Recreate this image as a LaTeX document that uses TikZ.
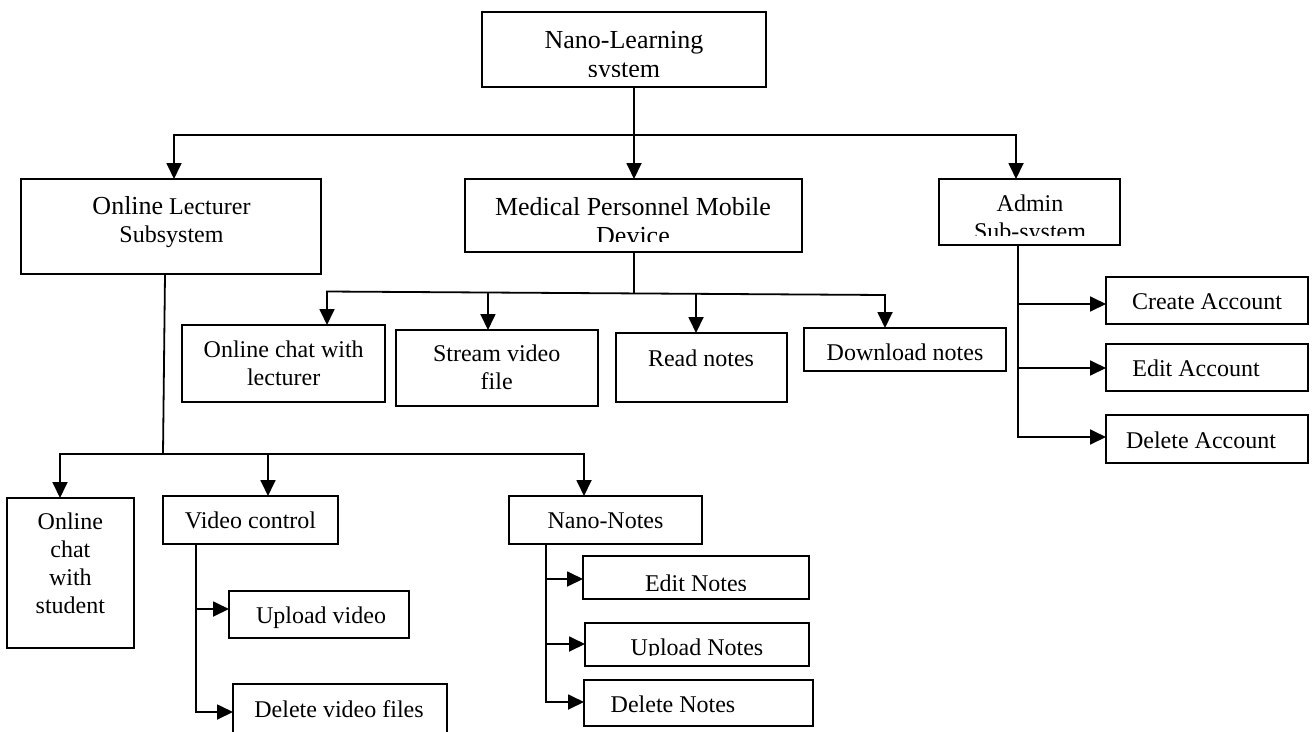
\documentclass[tikz,border=0pt]{standalone}
\usepackage{fontspec}
\setmainfont{Liberation Serif}
\usetikzlibrary{arrows.meta,calc}
\newcommand\mkbox[5]{\node[box, minimum width={#4-#2}, minimum height={#5-#3}] (#1) at (#2,#3) {};}
\begin{document}
\begin{tikzpicture}[x=1pt,y=-1pt,
  box/.style={draw, line width=1.6pt, inner sep=0pt, outer sep=0pt, anchor=north west},
  ln/.style={line width=1.8pt},
  arr/.style={line width=1.8pt, -{Triangle[length=16pt,width=15pt]}},
  arrs/.style={line width=1.8pt, {Triangle[length=16pt,width=15pt]}-{Triangle[length=16pt,width=15pt]}},
  ta/.style={inner sep=0pt, anchor=north, align=center, font=\fontsize{24}{28}\selectfont},
  tb/.style={inner sep=0pt, anchor=north, align=center, font=\fontsize{26}{29}\selectfont}]
\useasboundingbox (0,0) rectangle (1314,731);

% boxes
\mkbox{sys}{482}{12}{766}{87}
\mkbox{med}{465}{179}{802}{252}
\mkbox{lec}{21}{179}{321}{274}
\mkbox{adm}{939}{179}{1120}{245}
\mkbox{chatl}{182}{325}{385}{402}
\mkbox{strm}{396}{330}{598}{406}
\mkbox{read}{616}{333}{787}{402}
\mkbox{down}{804}{328}{1006}{371}
\mkbox{crt}{1106}{277}{1308}{324}
\mkbox{edt}{1106}{344}{1308}{391}
\mkbox{dela}{1106}{415}{1308}{463}
\mkbox{stu}{7}{498}{134}{648}
\mkbox{vid}{163}{496}{338}{544}
\mkbox{upv}{229}{591}{409}{638}
\mkbox{delv}{233}{684}{447}{745}
\mkbox{nano}{509}{496}{702}{544}
\mkbox{edn}{583}{556}{809}{599}
\mkbox{upn}{585}{623}{809}{666}
\mkbox{deln}{584}{680}{813}{726}

% texts
\begin{scope}
  \clip (482,12) rectangle (766,76.5);
  \node[tb] (sysT) at (624,28) {\strut Nano-Learning\\system};
\end{scope}
\begin{scope}
  \clip (465,179) rectangle (802,241);
  \node[tb] (medT) at (633,194.7) {\strut Medical Personnel Mobile\\Device};
\end{scope}
\node[ta] (lecT) at (171.5,194.7) {\strut{\fontsize{26}{28}\selectfont Online} Lecturer\\Subsystem};
\begin{scope}
  \clip (939,179) rectangle (1120,235);
  \node[ta] (admT) at (1030,192.1) {\strut Admin\\Sub-system};
\end{scope}
\node[ta] (chatlT) at (283.7,337.9) {\strut Online chat with\\lecturer};
\node[ta] (strmT) at (496.7,342.1) {\strut Stream video\\file};
\node[ta] (readT) at (701,346.9) {\strut Read notes};
\node[ta] (downT) at (905,341.1) {\strut Download notes};
\node[ta] (crtT) at (1207,289.7) {\strut Create Account};
\node[ta] (edtT) at (1196,357.1) {\strut Edit Account};
\node[ta] (delaT) at (1201,428.7) {\strut Delete Account};
\node[ta] (stuT) at (70.4,509.7) {\strut Online\\chat\\with\\student};
\node[ta] (vidT) at (250.5,508.7) {\strut Video control};
\node[ta] (upvT) at (321,603.7) {\strut Upload video};
\node[ta] (delvT) at (339,698.1) {\strut Delete video files};
\node[ta] (nanoT) at (605.5,508.7) {\strut Nano-Notes};
\begin{scope}
  \clip (583,556) rectangle (809,590);
  \node[ta] (ednT) at (696,571.4) {\strut Edit Notes};
\end{scope}
\begin{scope}
  \clip (585,623) rectangle (809,655);
  \node[ta] (upnT) at (697,635.9) {\strut Upload Notes};
\end{scope}
\node[ta] (delnT) at (673,692.7) {\strut Delete Notes};

% top level connectors
\coordinate (j0) at (634,135);
\coordinate (jl) at (174,135);
\coordinate (jr) at (1016,135);
\draw[arr] (sys.south -| j0) -- (med.north -| j0);
\draw[arrs] (lec.north -| jl) -- (jl) -- (jr) -- (adm.north -| jr);

% medical branch
\coordinate (hl) at (327,291.5);
\coordinate (hr) at (885,295);
\coordinate (hs) at ($(hl)!0.2885!(hr)$);
\coordinate (hd) at ($(hl)!0.6613!(hr)$);
\coordinate (hm) at ($(hl)!0.5502!(hr)$);
\draw[ln] (med.south -| hm) -- (hm);
\draw[arrs] (chatl.north -| hl) -- (hl) -- (hr) -- (down.north -| hr);
\draw[arr] (hs) -- (strm.north -| hs);
\draw[arr] (hd) -- (read.north -| hd);

% lecturer branch
\coordinate (lt) at (165,274);
\coordinate (lb) at (163,454);
\coordinate (bl) at (60,454);
\coordinate (br) at (584,454);
\coordinate (bv) at (268,454);
\draw[ln] (lec.south -| lt) -- (lb);
\draw[arrs] (stu.north -| bl) -- (bl) -- (br) -- (nano.north -| br);
\draw[arr] (bv) -- (vid.north -| bv);

% video control
\coordinate (v1) at (196,609);
\coordinate (v2) at (196,712);
\draw[arr] (vid.south -| v2) -- (v2) -- (v2 -| delv.west);
\draw[arr] (v1) -- (v1 -| upv.west);

% nano notes
\coordinate (n1) at (546,579);
\coordinate (n2) at (546,644);
\coordinate (n3) at (546,702);
\draw[arr] (nano.south -| n3) -- (n3) -- (n3 -| deln.west);
\draw[arr] (n1) -- (n1 -| edn.west);
\draw[arr] (n2) -- (n2 -| upn.west);

% admin
\coordinate (a1) at (1018,304);
\coordinate (a2) at (1018,368);
\coordinate (a3) at (1018,437);
\draw[arr] (adm.south -| a3) -- (a3) -- (a3 -| dela.west);
\draw[arr] (a1) -- (a1 -| crt.west);
\draw[arr] (a2) -- (a2 -| edt.west);
\end{tikzpicture}
\end{document}
